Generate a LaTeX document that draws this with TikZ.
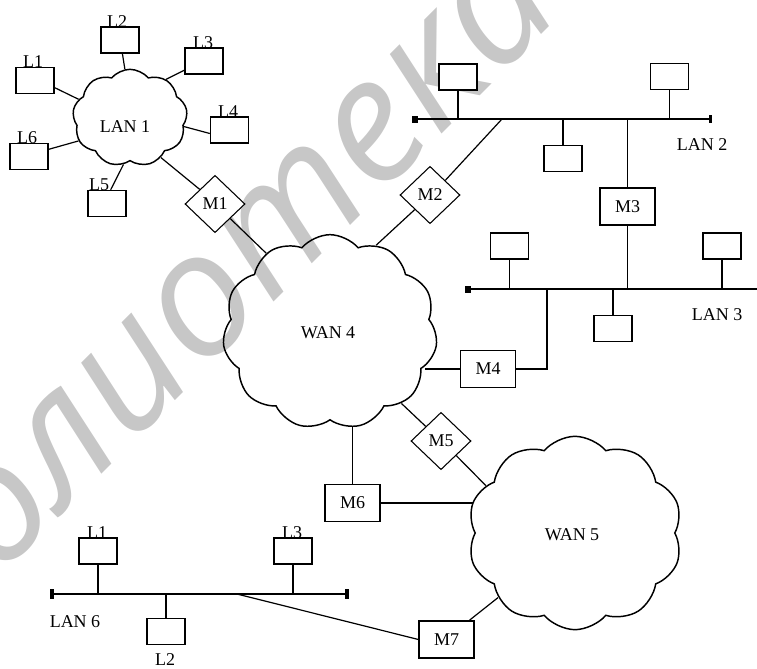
\documentclass[tikz,border=0pt]{standalone}
\usepackage{fontspec}
\setmainfont{Liberation Serif}
\newfontfamily\wmfont{Open Sans}
\usetikzlibrary{shapes.symbols,shapes.geometric}
\tikzset{
  lbl/.style={inner sep=0pt, font=\fontsize{13.5}{15}\selectfont},
  lbox/.style={draw, fill=white, line width=1.1pt, inner sep=0pt, minimum width=28.5pt, minimum height=19.5pt},
  mbox/.style={draw, fill=white, line width=1.1pt, inner sep=0pt, minimum width=41pt, minimum height=28pt, font=\fontsize{13.5}{15}\selectfont},
  mdia/.style={draw, fill=white, diamond, line width=0.8pt, inner sep=0pt, minimum width=45pt, minimum height=43pt, font=\fontsize{13.5}{15}\selectfont},
  cloudst/.style={draw, cloud, line width=1.1pt, inner sep=0pt, cloud puffs=11, cloud puff arc=100},
  bus/.style={line width=1.7pt},
  stem/.style={line width=1.3pt},
  link/.style={line width=0.9pt},
  wm/.style={rotate=45, inner sep=0pt, text=black!22, font=\wmfont\itshape\fontsize{130}{130}\selectfont}
}
\begin{document}
\begin{tikzpicture}[x=0.75pt,y=-0.75pt]
\useasboundingbox (0,0) rectangle (757,668);
% watermark
\node[wm, anchor=base west] (wmb) at (201,375) {отека};
\node[wm, anchor=base east] (wma) at (201,375) {библи};

% ---------- LAN 1 ----------
\node[cloudst, minimum width=86pt, minimum height=73pt, cloud puffs=9] (lan1) at (130,118) {};
\node[lbl] (lan1t) at (125,127) {LAN 1};
\node[lbox] (a1) at (35,80.5) {};
\node[lbox] (a2) at (120,40) {};
\node[lbox] (a3) at (204,61) {};
\node[lbox] (a4) at (229.5,130) {};
\node[lbox] (a6) at (29,156.5) {};
\node[lbox] (a5) at (107,203.5) {};
\draw[link] (a1.-20) -- (lan1.160);
\draw[link] (a2.-80) -- (lan1.96);
\draw[link] (a3.205) -- (lan1.47);
\draw[link] (a4.190) -- (lan1.-9);
\draw[link] (a6.20) -- (lan1.-156);
\draw[link] (a5.75) -- (lan1.-98);
\node[lbl, anchor=base] (a1t) at (33,67) {L1};
\node[lbl, anchor=base] (a2t) at (117,27) {L2};
\node[lbl, anchor=base] (a3t) at (203,48) {L3};
\node[lbl, anchor=base] (a4t) at (228,117) {L4};
\node[lbl, anchor=base] (a6t) at (27,143) {L6};
\node[lbl, anchor=base] (a5t) at (99,190) {L5};

% ---------- WAN 4 ----------
\node[cloudst, minimum width=161pt, minimum height=146pt] (wan4) at (330,332) {};
\node[lbl] (wan4t) at (328,333) {WAN 4};

% ---------- WAN 5 ----------
\node[cloudst, minimum width=161pt, minimum height=145pt, cloud puffs=10] (wan5) at (575,533) {};
\node[lbl] (wan5t) at (572,535) {WAN 5};

% ---------- LAN 2 ----------
\coordinate (b2l) at (415,119);
\coordinate (b2r) at (710,119);
\coordinate (b2m) at (502,119);
\draw[bus] (b2l) -- (b2r);
\fill (b2l) ++(-3,-3.5) rectangle ++(6,7);
\fill (b2r) ++(-1.5,-4) rectangle ++(3,8);
\node[lbox] (c1) at (458,77) {};
\node[lbox] (c2) at (669.5,76.5) {};
\node[lbox] (c3) at (563,158.5) {};
\draw[stem] (c1.south) -- (c1.south |- b2l);
\draw[stem] (c2.south) -- (c2.south |- b2l);
\draw[stem] (c3.north) -- (c3.north |- b2l);
\node[lbl] (lan2t) at (702,145) {LAN 2};

% ---------- LAN 3 ----------
\coordinate (b3l) at (468,289);
\coordinate (b3r) at (760,289);
\coordinate (b3m) at (547,289);
\draw[bus] (b3l) -- (b3r);
\fill (b3l) ++(-3,-3.5) rectangle ++(6,7);
\node[lbox] (d1) at (509.5,246) {};
\node[lbox] (d2) at (722,246) {};
\node[lbox] (d3) at (613,328.5) {};
\draw[stem] (d1.south) -- (d1.south |- b3l);
\draw[stem] (d2.south) -- (d2.south |- b3l);
\draw[stem] (d3.north) -- (d3.north |- b3l);
\node[lbl] (lan3t) at (717,315) {LAN 3};

% ---------- M nodes ----------
\node[mdia] (m1) at (215,204) {M1};
\node[mdia] (m2) at (430,195) {M2};
\node[mdia] (m5) at (441,441) {M5};
\node[mbox] (m3) at (627.5,206.5) {M3};
\node[mbox] (m4) at (488,369) {M4};
\node[mbox] (m6) at (352.5,503) {M6};
\node[mbox] (m7) at (446.5,639.5) {M7};

\draw[link] (lan1.-52) -- (m1.north west);
\draw[link] (m1.south east) -- (wan4.129);
\draw[link] (b2m) -- (m2.north east);
\draw[link] (m2.south west) -- (wan4.62);
\draw[stem] (m3.north) -- (m3.north |- b2l);
\draw[stem] (m3.south) -- (m3.south |- b3l);
\draw[stem] (m4.east) -| (b3m);
\draw[stem] (m4.west) -- (wan4.-20 |- m4.west);

% ---------- WAN4 / WAN5 links ----------
\draw[link] (wan4.-45) -- (m5.north west);
\draw[link] (m5.south east) -- (wan5.152);
\draw[stem] (m6.north) -- (m6.north |- wan4.-78);
\draw[stem] (m6.east) -- (m6.east -| wan5.163);
\draw[link] (m7.40) -- (wan5.-140);

% ---------- LAN 6 ----------
\coordinate (b6l) at (52,594);
\coordinate (b6r) at (347,594);
\coordinate (b6m) at (237,594);
\draw[bus] (b6l) -- (b6r);
\fill (b6l) ++(-2,-5) rectangle ++(4,10);
\fill (b6r) ++(-2,-5) rectangle ++(4,10);
\node[lbox] (e1) at (98,551) {};
\node[lbox] (e3) at (293,551) {};
\node[lbox] (e2) at (166,631.5) {};
\draw[stem] (e1.south) -- (e1.south |- b6l);
\draw[stem] (e3.south) -- (e3.south |- b6l);
\draw[stem] (e2.north) -- (e2.north |- b6l);
\node[lbl, anchor=base] (e1t) at (97,538) {L1};
\node[lbl, anchor=base] (e3t) at (292,538) {L3};
\node[lbl] (e2t) at (165,660) {L2};
\node[lbl] (lan6t) at (75,622) {LAN 6};
\draw[link] (b6m) -- (m7.west);
\end{tikzpicture}
\end{document}
